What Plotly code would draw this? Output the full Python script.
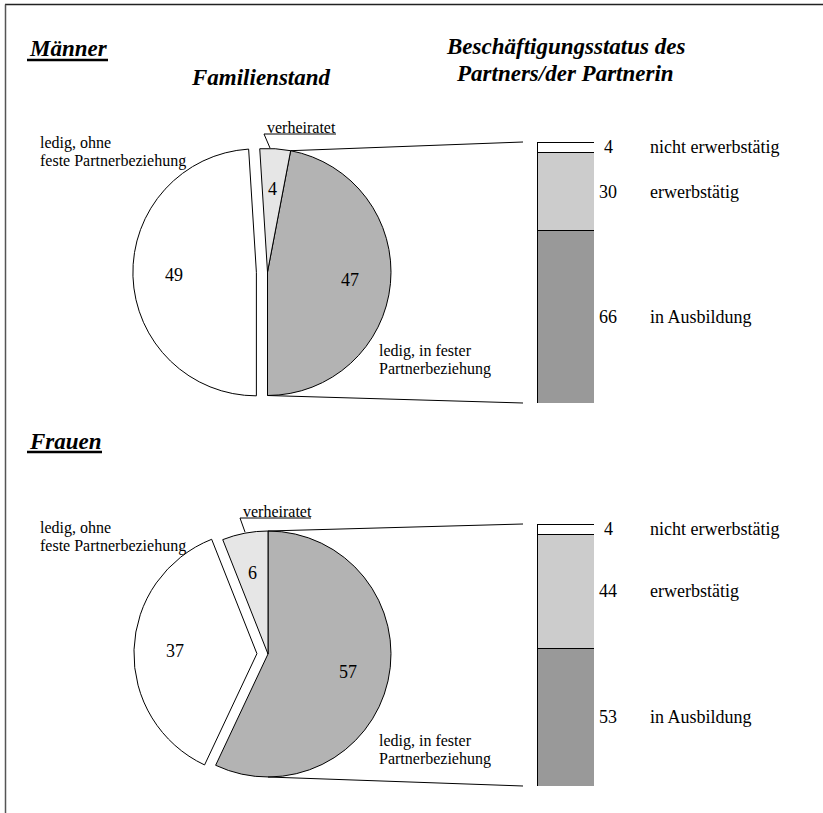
import math
import plotly.graph_objects as go

# ---------------- data ----------------
pie_labels = ["ledig, in fester Partnerbeziehung", "ledig, ohne feste Partnerbeziehung", "verheiratet"]
maenner_pie = [47, 49, 4]
frauen_pie = [57, 37, 6]

bar_labels = ["in Ausbildung", "erwerbstätig", "nicht erwerbstätig"]
maenner_bar = [66, 30, 4]
frauen_bar = [53, 44, 4]

group_titles = ["Männer", "Frauen"]
col_title_left = "Familienstand"
col_title_right = ["Beschäftigungsstatus des", "Partners/der Partnerin"]

# ---------------- style / layout constants ----------------
W, H = 823, 813
FONT = "Liberation Serif"
PIE_COLORS = ["#b3b3b3", "#ffffff", "#e6e6e6"]
BAR_COLORS = ["#999999", "#cccccc", "#ffffff"]
PULL = [0, 0.09, 0]

# pie geometry in pixels (centre x, centre y, radius, rotation)
PIES = [
    dict(values=maenner_pie, cx=267.5, cy=272, r=123.5, rot=10.8),
    dict(values=frauen_pie, cx=268, cy=654, r=123, rot=0),
]
# bar geometry in pixels (x0, x1, top, bottom)
BAR_X0, BAR_X1 = 537, 594
BARS = [
    dict(values=maenner_bar, top=142, bottom=403),
    dict(values=frauen_bar, top=524, bottom=786),
]


def px(x):
    return x / W


def py(y):
    return 1 - y / H


fig = go.Figure()
annotations = []
shapes = []

# ---------------- pies ----------------
for k, p in enumerate(PIES):
    vals = p["values"]
    r = p["r"]
    half = r * (1 + max(PULL))
    fig.add_trace(go.Pie(
        labels=pie_labels, values=vals, sort=False, direction="clockwise",
        rotation=p["rot"], pull=PULL, textinfo="none", hoverinfo="label+value",
        marker=dict(colors=PIE_COLORS, line=dict(color="black", width=1)),
        domain=dict(x=[px(p["cx"] - half), px(p["cx"] + half)],
                    y=[py(p["cy"] + half), py(p["cy"] - half)]),
        showlegend=False,
    ))
    total = sum(vals)
    a = p["rot"]
    p["angles"] = []
    for i, v in enumerate(vals):
        a0 = a
        a1 = a + v * 360 / total
        b = math.radians((a0 + a1) / 2)
        ax = p["cx"] + PULL[i] * r * math.sin(b)
        ay = p["cy"] - PULL[i] * r * math.cos(b)
        lx = ax + 0.67 * r * math.sin(b)
        ly = ay - 0.67 * r * math.cos(b)
        annotations.append(dict(x=px(lx), y=py(ly), xref="paper", yref="paper",
                                text=str(v), showarrow=False,
                                xanchor="center", yanchor="middle",
                                font=dict(family=FONT, size=18, color="black")))
        p["angles"].append((a0, a1))
        a = a1

# ---------------- bars ----------------
for k, bdef in enumerate(BARS):
    yname = "y" if k == 0 else "y2"
    vals = bdef["values"]
    cum = 0
    for i, v in enumerate(vals):
        fig.add_trace(go.Bar(
            x=[0], y=[v], width=1, name=bar_labels[i], yaxis=yname, xaxis="x",
            marker=dict(color=BAR_COLORS[i], line=dict(color="black", width=1)),
            showlegend=False, hoverinfo="name+y",
        ))
        mid = cum + v / 2
        cum += v
        annotations.append(dict(x=px(608), y=mid, xref="paper", yref=yname,
                                text=str(v), showarrow=False, xanchor="center", yanchor="middle",
                                font=dict(family=FONT, size=18, color="black")))
        annotations.append(dict(x=px(648), y=mid, xref="paper", yref=yname,
                                text=bar_labels[i], showarrow=False, xanchor="left", yanchor="middle",
                                font=dict(family=FONT, size=18, color="black")))

# ---------------- connector lines pie -> bar ----------------
for p, bdef in zip(PIES, BARS):
    a0 = math.radians(p["angles"][0][0])
    sx = p["cx"] + p["r"] * math.sin(a0)
    sy = p["cy"] - p["r"] * math.cos(a0)
    shapes.append(dict(type="line", xref="paper", yref="paper",
                       x0=px(sx), y0=py(sy), x1=px(523), y1=py(bdef["top"]),
                       line=dict(color="black", width=1)))
    shapes.append(dict(type="line", xref="paper", yref="paper",
                       x0=px(p["cx"]), y0=py(p["cy"] + p["r"]), x1=px(523), y1=py(bdef["bottom"]),
                       line=dict(color="black", width=1)))


# ---------------- slice labels ----------------
def txt(x, y, s, size=16, anchor="left", **kw):
    d = dict(x=px(x), y=py(y), xref="paper", yref="paper", text=s, showarrow=False,
             xanchor=anchor, yanchor="middle",
             font=dict(family=FONT, size=size, color="black"))
    d.update(kw)
    annotations.append(d)


label_pos = [
    dict(ohne=(38, 143), fester=(377, 351), verh=(264, 336, 134, 270, 148)),
    dict(ohne=(38, 528), fester=(377, 741), verh=(240, 311, 518, 245, 532)),
]
for lp in label_pos:
    ox, oy = lp["ohne"]
    txt(ox, oy, "ledig, ohne")
    txt(ox, oy + 17.5, "feste Partnerbeziehung")
    fx, fy = lp["fester"]
    txt(fx, fy, "ledig, in fester")
    txt(fx, fy + 17.5, "Partnerbeziehung")
    vx0, vx1, vy, ex, ey = lp["verh"]
    txt(vx0 + 1, vy - 7, "verheiratet")
    shapes.append(dict(type="line", xref="paper", yref="paper", x0=px(vx0), x1=px(vx1),
                       y0=py(vy), y1=py(vy), line=dict(color="black", width=1)))
    shapes.append(dict(type="line", xref="paper", yref="paper", x0=px(vx0), x1=px(ex),
                       y0=py(vy), y1=py(ey), line=dict(color="black", width=1)))

# ---------------- titles ----------------
txt(27, 49, "<b><i>" + group_titles[0] + "</i></b>", size=23)
txt(27, 442, "<b><i>" + group_titles[1] + "</i></b>", size=23)
for (ux0, ux1, uy) in [(27, 108, 60), (27, 102, 452)]:
    shapes.append(dict(type="line", xref="paper", yref="paper", x0=px(ux0), x1=px(ux1),
                       y0=py(uy), y1=py(uy), line=dict(color="black", width=2.5)))
txt(261, 77, "<b><i>" + col_title_left + "</i></b>", size=23, anchor="center")
txt(565, 46, "<b><i>" + col_title_right[0] + "</i></b>", size=23, anchor="center")
txt(565, 74, "<b><i>" + col_title_right[1] + "</i></b>", size=23, anchor="center")

# ---------------- frame ----------------
shapes.append(dict(type="line", xref="paper", yref="paper", x0=px(5), x1=1, y0=py(4.5), y1=py(4.5),
                   line=dict(color="#222222", width=1.5)))
shapes.append(dict(type="line", xref="paper", yref="paper", x0=px(5.5), x1=px(5.5), y0=py(4.5), y1=0,
                   line=dict(color="#555555", width=1.5)))

fig.update_layout(
    width=W, height=H, margin=dict(l=0, r=0, t=0, b=0),
    paper_bgcolor="white", plot_bgcolor="white",
    barmode="stack",
    xaxis=dict(domain=[px(BAR_X0), px(BAR_X1)], range=[-0.5, 0.5], visible=False, fixedrange=True),
    yaxis=dict(domain=[py(BARS[0]["bottom"]), py(BARS[0]["top"])], range=[0, sum(maenner_bar)],
               visible=False, fixedrange=True),
    yaxis2=dict(domain=[py(BARS[1]["bottom"]), py(BARS[1]["top"])], range=[0, sum(frauen_bar)],
                visible=False, anchor="x", fixedrange=True),
    annotations=annotations, shapes=shapes,
    font=dict(family=FONT, color="black"),
)

fig.write_html("out.html", config={"displayModeBar": False},
               post_script="document.body.style.margin='0';")
